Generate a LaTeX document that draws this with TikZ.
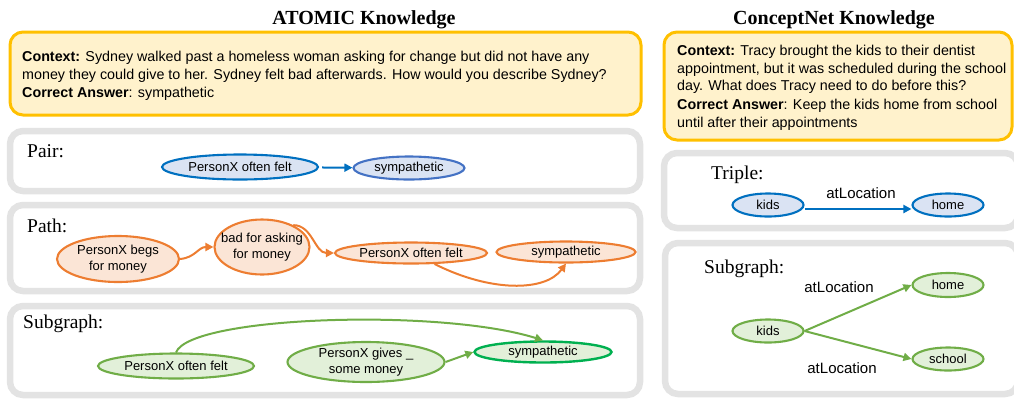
\documentclass[tikz,border=0pt]{standalone}
\usepackage{fontspec}
\setmainfont{Liberation Serif}
\setsansfont{Liberation Sans}
\usetikzlibrary{shapes.geometric,arrows.meta}
\definecolor{gbox}{HTML}{E3E3E3}
\definecolor{ybord}{HTML}{FFC000}
\definecolor{yfill}{HTML}{FFF2CC}
\definecolor{bbord}{HTML}{0070C0}
\definecolor{bbordb}{HTML}{4472C4}
\definecolor{bfill}{HTML}{DAE3F3}
\definecolor{obord}{HTML}{ED7D31}
\definecolor{ofill}{HTML}{FBE5D6}
\definecolor{gbord}{HTML}{70AD47}
\definecolor{gfill}{HTML}{E2F0D9}
\definecolor{gbordb}{HTML}{00B050}
\begin{document}
\begin{tikzpicture}[x=1pt,y=1pt,
  panel/.style={draw=gbox, line width=6.5pt, rounded corners=13pt},
  ctx/.style={draw=ybord, fill=yfill, line width=3pt, rounded corners=13pt},
  ttl/.style={font=\fontsize{20}{24}\selectfont\bfseries, inner sep=0},
  lab/.style={font=\fontsize{19.5}{23}\selectfont, anchor=base west, inner sep=0},
  ctxt/.style={font=\sffamily\fontsize{14.3}{17.6}\selectfont, anchor=base west, inner sep=0},
  rel/.style={font=\sffamily\fontsize{15}{18}\selectfont, inner sep=0},
  ell/.style={ellipse, draw, line width=2.1pt, inner sep=0, font=\sffamily\fontsize{13}{15.5}\selectfont, align=center},
  bnode/.style={ell, draw=bbord, fill=bfill},
  onode/.style={ell, draw=obord, fill=ofill},
  gnode/.style={ell, draw=gbord, fill=gfill},
  barr/.style={draw=bbord, line width=2pt, -{Triangle[length=8pt,width=8pt]}},
  oarr/.style={draw=obord, line width=2pt, -{Triangle[length=8pt,width=8pt]}},
  garr/.style={draw=gbord, line width=2pt, -{Triangle[length=8pt,width=8pt]}},
]
\useasboundingbox (0,0) rectangle (1014,-400);

% titles
\node[ttl] (t1) at (364,-20) {ATOMIC Knowledge};
\node[ttl] (t2) at (834,-20) {ConceptNet Knowledge};

% context boxes
\draw[ctx] (10,-32) rectangle (641,-115);
\draw[ctx] (664,-32) rectangle (1012,-140);

\node[ctxt] (c1) at (22,-61) {\textbf{Context:} Sydney walked past a homeless woman asking for change but did not have any};
\node[ctxt] (c2) at (22,-79) {money they could give to her. Sydney felt bad afterwards. How would you describe Sydney?};
\node[ctxt] (c3) at (22,-97) {\textbf{Correct Answer}: sympathetic};

\node[ctxt] (d1) at (677,-55) {\textbf{Context:} Tracy brought the kids to their dentist};
\node[ctxt] (d2) at (677,-73) {appointment, but it was scheduled during the school};
\node[ctxt] (d3) at (677,-90) {day. What does Tracy need to do before this?};
\node[ctxt] (d4) at (677,-109) {\textbf{Correct Answer}: Keep the kids home from school};
\node[ctxt] (d5) at (677,-127) {until after their appointments};

% panels
\draw[panel] (10,-131) rectangle (640,-191);
\draw[panel] (10,-205) rectangle (640,-291);
\draw[panel] (10,-306) rectangle (640,-395);
\draw[panel] (664,-153) rectangle (1018,-228);
\draw[panel] (665,-243) rectangle (1018,-394);

% labels
\node[lab] (lpair) at (27,-157) {Pair:};
\node[lab] (lpath) at (27,-232) {Path:};
\node[lab] (lsub) at (23,-328) {Subgraph:};
\node[lab] (ltrip) at (711,-179) {Triple:};
\node[lab] (lsub2) at (704,-273) {Subgraph:};

% Pair
\node[bnode, minimum width=156pt, minimum height=25pt] (A1) at (240,-167) {PersonX often felt};
\node[bnode, draw=bbordb, minimum width=111pt, minimum height=23pt] (A2) at (409,-168) {sympathetic};
\draw[barr, shorten <=3pt] (A1) -- (A2);

% Path
\node[onode, inner xsep=-2pt, minimum width=122pt, minimum height=46pt] (P1) at (118,-259) {PersonX begs\\for money};
\node[onode, inner xsep=-10pt, inner ysep=-3pt, minimum width=95pt, minimum height=55pt] (P2) at (262,-247) {bad for asking\\for money};
\node[onode, minimum width=152pt, minimum height=21pt] (P3) at (411,-253) {PersonX often felt};
\node[onode, minimum width=139pt, minimum height=21pt] (P4) at (566,-252) {sympathetic};
\draw[oarr] (P1.east) to[out=5,in=180,looseness=1.1] (P2.west);
\draw[oarr] (P2.35) to[out=0,in=180] (P3.west);
\draw[oarr] (P3.-25) .. controls (490,-292) and (545,-292) .. (P4.south);

% Subgraph (ATOMIC)
\node[gnode, minimum width=156pt, minimum height=25pt] (S1) at (176,-366) {PersonX often felt};
\node[gnode, minimum width=157pt, minimum height=40pt] (S2) at (366,-362) {PersonX gives \_\\some money};
\node[gnode, draw=gbordb, line width=2.4pt, minimum width=137pt, minimum height=21pt] (S3) at (543,-352) {sympathetic};
\draw[garr] (S1.north) .. controls (190,-316) and (440,-308) .. (S3.north);
\draw[garr] (S2.east) -- (S3.west);

% Triple
\node[bnode, minimum width=71pt, minimum height=23pt] (K1) at (768,-205) {kids};
\node[bnode, minimum width=71pt, minimum height=23pt] (H1) at (948,-205) {home};
\draw[barr] ([yshift=-4pt]K1.east) -- ([yshift=-4pt]H1.west);
\node[rel] (r1) at (861,-193) {atLocation};

% Subgraph (ConceptNet)
\node[gnode, minimum width=71pt, minimum height=23pt] (K2) at (768,-331) {kids};
\node[gnode, minimum width=71pt, minimum height=24pt] (H2) at (948,-285) {home};
\node[gnode, minimum width=71pt, minimum height=23pt] (Sc) at (948,-359) {school};
\draw[garr] (K2.east) -- (H2.west);
\draw[garr] (K2.east) -- (Sc.west);
\node[rel] (r2) at (839,-287) {atLocation};
\node[rel] (r3) at (842,-368) {atLocation};
\end{tikzpicture}
\end{document}
